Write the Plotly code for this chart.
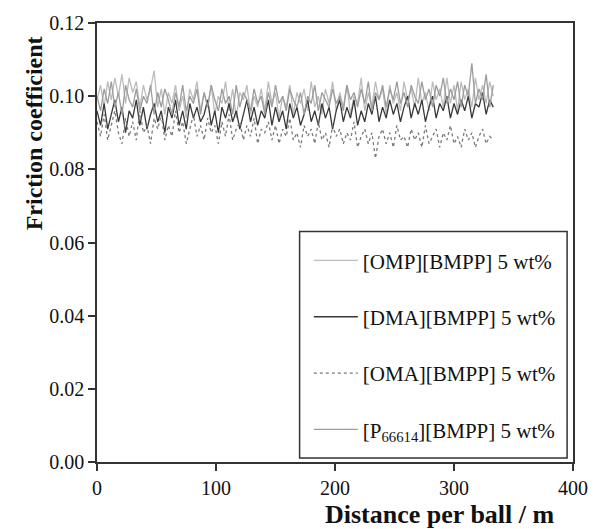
import plotly.graph_objects as go

distance = list(range(0, 336, 3))

omp = [0.099,0.103,0.097,0.104,0.099,0.105,0.100,0.106,0.098,0.105,0.101,0.104,0.097,0.103,0.099,0.102,0.107,
       0.097,0.102,0.095,0.101,0.098,0.103,0.096,0.100,0.094,0.102,0.099,0.104,0.096,0.101,0.097,0.103,0.095,
       0.100,0.098,0.104,0.096,0.102,0.094,0.101,0.099,0.103,0.095,0.100,0.097,0.102,0.096,0.104,0.098,0.101,
       0.094,0.100,0.097,0.103,0.095,0.101,0.098,0.102,0.096,0.104,0.097,0.100,0.095,0.102,0.098,0.104,0.096,
       0.101,0.097,0.103,0.095,0.100,0.098,0.105,0.096,0.101,0.097,0.104,0.099,0.102,0.095,0.103,0.098,0.101,
       0.096,0.104,0.099,0.102,0.097,0.105,0.098,0.101,0.096,0.104,0.099,0.102,0.097,0.105,0.098,0.103,0.096,
       0.104,0.099,0.102,0.097,0.105,0.099,0.103,0.098,0.104,0.100]

dma = [0.096,0.092,0.098,0.091,0.095,0.099,0.093,0.097,0.090,0.096,
       0.094,0.099,0.092,0.097,0.091,0.095,0.098,0.093,0.096,0.090,
       0.097,0.094,0.099,0.092,0.096,0.091,0.098,0.094,0.097,0.093,
       0.095,0.099,0.092,0.096,0.090,0.097,0.094,0.098,0.093,0.096,
       0.091,0.095,0.099,0.093,0.097,0.092,0.096,0.094,0.099,0.092,
       0.097,0.093,0.096,0.091,0.098,0.094,0.097,0.092,0.095,0.099,
       0.093,0.096,0.092,0.098,0.094,0.097,0.091,0.096,0.099,0.093,
       0.097,0.094,0.099,0.092,0.096,0.093,0.098,0.095,0.100,0.093,
       0.097,0.094,0.099,0.095,0.098,0.093,0.097,0.100,0.094,0.098,
       0.095,0.099,0.093,0.097,0.100,0.094,0.098,0.096,0.100,0.094,
       0.098,0.095,0.099,0.096,0.100,0.094,0.098,0.097,0.101,0.095,
       0.099,0.097]

oma = [0.093,0.089,0.095,0.088,0.092,0.096,0.090,0.087,0.094,0.089,
       0.093,0.088,0.096,0.090,0.092,0.087,0.094,0.091,0.095,0.088,
       0.092,0.089,0.096,0.090,0.093,0.087,0.091,0.095,0.089,0.092,
       0.088,0.094,0.090,0.092,0.087,0.093,0.089,0.095,0.088,0.091,
       0.093,0.088,0.092,0.089,0.094,0.087,0.091,0.090,0.093,0.088,
       0.092,0.087,0.091,0.089,0.094,0.088,0.090,0.086,0.092,0.089,
       0.091,0.087,0.093,0.088,0.090,0.086,0.092,0.089,0.091,0.087,
       0.090,0.088,0.093,0.086,0.089,0.091,0.087,0.090,0.083,0.089,
       0.091,0.087,0.090,0.086,0.092,0.088,0.089,0.086,0.091,0.088,
       0.090,0.086,0.092,0.087,0.089,0.091,0.086,0.090,0.088,0.092,
       0.087,0.089,0.086,0.091,0.088,0.090,0.086,0.089,0.091,0.087,
       0.089,0.088]

p66614 = [0.100,0.096,0.102,0.098,0.104,0.097,0.101,0.095,0.103,0.099,
          0.097,0.102,0.096,0.100,0.098,0.103,0.095,0.101,0.097,0.102,
          0.099,0.095,0.101,0.097,0.103,0.096,0.100,0.098,0.102,0.095,
          0.101,0.097,0.103,0.099,0.096,0.102,0.098,0.100,0.095,0.103,
          0.097,0.101,0.099,0.096,0.102,0.098,0.100,0.095,0.101,0.097,
          0.103,0.098,0.100,0.096,0.102,0.099,0.097,0.101,0.095,0.100,
          0.098,0.103,0.096,0.101,0.099,0.097,0.102,0.098,0.100,0.096,
          0.103,0.099,0.101,0.097,0.102,0.098,0.104,0.096,0.101,0.099,
          0.103,0.097,0.102,0.099,0.104,0.098,0.101,0.097,0.103,0.100,
          0.098,0.104,0.099,0.102,0.097,0.103,0.100,0.105,0.098,0.102,
          0.099,0.104,0.097,0.103,0.100,0.109,0.098,0.102,0.099,0.106,
          0.097,0.103]

names = ["[OMP][BMPP] 5 wt%", "[DMA][BMPP] 5 wt%", "[OMA][BMPP] 5 wt%",
         "[P<sub>66614</sub>][BMPP] 5 wt%"]
series = [omp, dma, oma, p66614]
colors = ["#bcbcbc", "#383838", "#7a7a7a", "#9c9c9c"]
dashes = ["solid", "solid", "dot", "solid"]

SERIF = "Liberation Serif, Times New Roman, serif"

fig = go.Figure()
for i, (nm, ys, c, d) in enumerate(zip(names, series, colors, dashes)):
    fig.add_trace(go.Scatter(x=distance, y=ys, mode="lines", name=nm,
                             legendgroup=str(i),
                             line=dict(color=c, width=1.3, dash=d)))

fig.update_layout(
    width=600, height=529,
    margin=dict(l=97, r=19, t=20, b=67),
    plot_bgcolor="white", paper_bgcolor="white",
    font=dict(family=SERIF, size=20, color="#111"),
    showlegend=True,
    legend=dict(x=0.445, y=0.505, xanchor="left", yanchor="top",
                bgcolor="rgba(0,0,0,0)", borderwidth=0,
                font=dict(family=SERIF, size=21, color="#111"),
                tracegroupgap=26, itemwidth=44),
    shapes=[dict(type="rect", xref="paper", yref="paper",
                 x0=(303-97)/484, x1=(575-97)/484,
                 y0=(462-458)/442, y1=(462-230)/442,
                 line=dict(color="#333", width=1.5), fillcolor="white",
                 layer="below")],
    annotations=[
        dict(text="<b>Friction coefficient</b>", xref="paper", yref="paper",
             x=(33-97)/484, y=(462-131)/442, textangle=-90, showarrow=False,
             font=dict(family=SERIF, size=24, color="#111"),
             xanchor="center", yanchor="middle"),
        dict(text="<b>Distance per ball / m</b>", xref="paper", yref="paper",
             x=(446-97)/484, y=(462-515)/442, showarrow=False,
             font=dict(family=SERIF, size=26, color="#111"),
             xanchor="center", yanchor="middle"),
    ],
)
fig.update_xaxes(range=[0, 400], tickvals=[0, 100, 200, 300, 400],
                 showgrid=False, zeroline=False, showline=True, mirror=True,
                 linecolor="#333", linewidth=1.5, ticks="outside", ticklen=7,
                 tickwidth=1.5, tickcolor="#333")
fig.update_yaxes(range=[0, 0.12], tickvals=[0, 0.02, 0.04, 0.06, 0.08, 0.10, 0.12],
                 tickformat=".2f",
                 showgrid=False, zeroline=False, showline=True, mirror=True,
                 linecolor="#333", linewidth=1.5, ticks="outside", ticklen=7,
                 tickwidth=1.5, tickcolor="#333")

fig.write_html("out.html")
